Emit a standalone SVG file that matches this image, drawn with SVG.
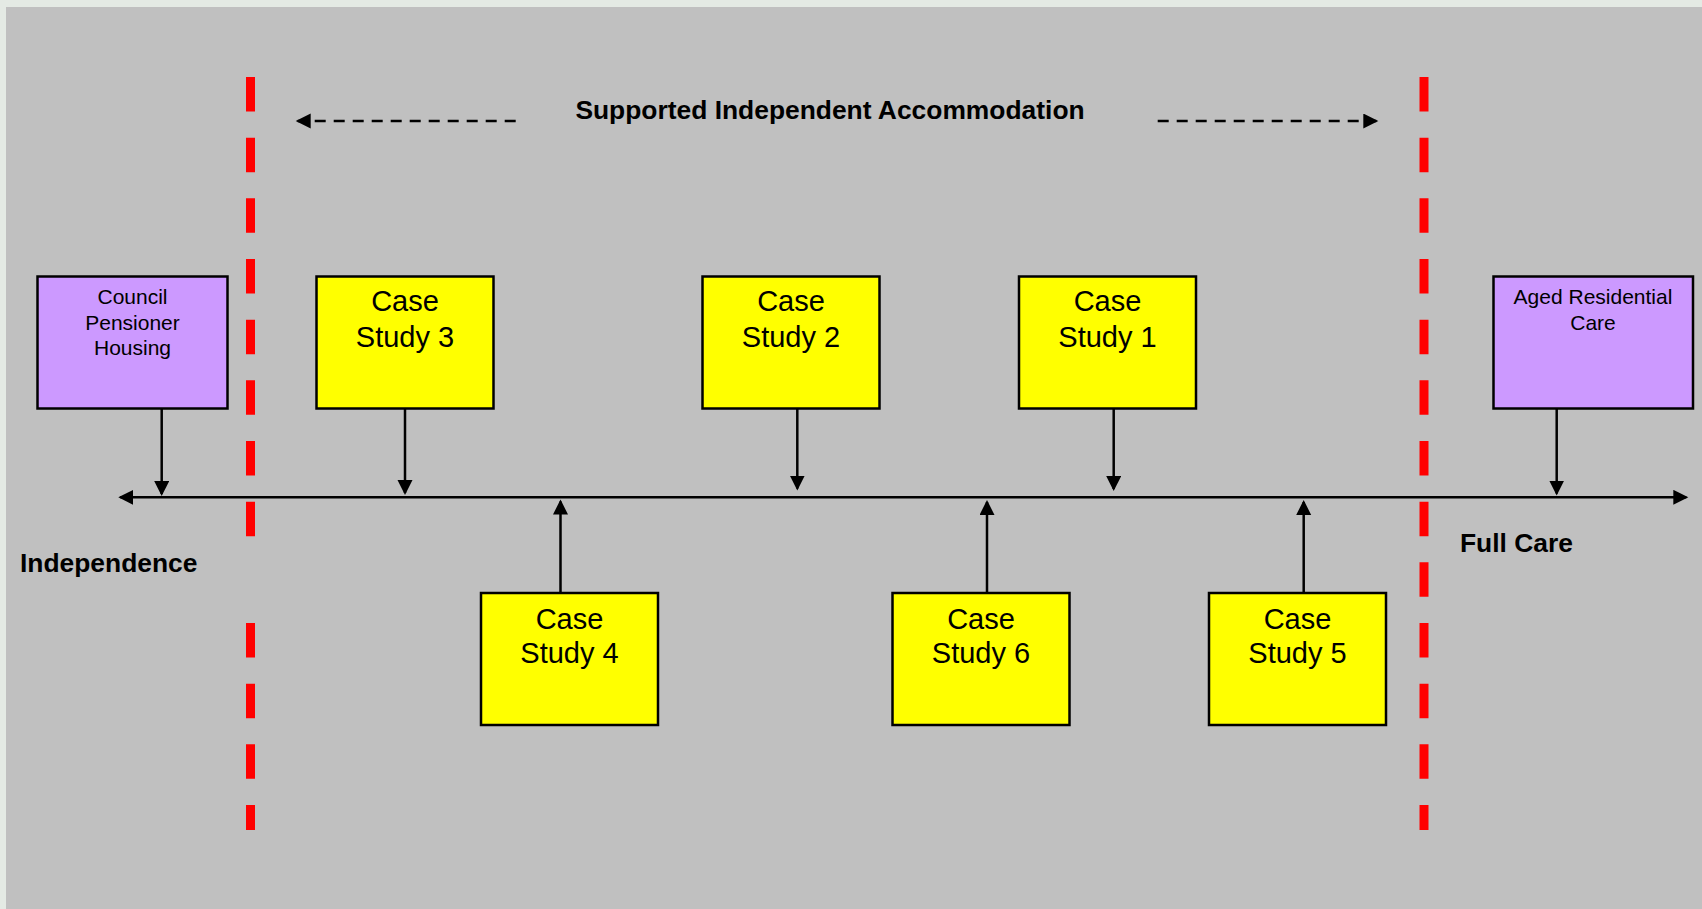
<svg xmlns="http://www.w3.org/2000/svg" width="1702" height="909" viewBox="0 0 1702 909">
<style>
.box{stroke:#000;stroke-width:2.5}
.purple{fill:#cc99ff}
.yellow{fill:#ffff00}
.small{font-family:"Liberation Sans",Arial,sans-serif;font-size:21px;fill:#000;text-anchor:middle}
.case{font-family:"Liberation Sans",Arial,sans-serif;font-size:29px;fill:#000;text-anchor:middle}
.bold{font-family:"Liberation Sans",Arial,sans-serif;font-size:26.4px;font-weight:bold;fill:#000}
.conn{stroke:#000;stroke-width:2.5;fill:none}
.dash{stroke:#000;stroke-width:2.5;fill:none;stroke-dasharray:11 8}
.red{stroke:#ff0000;stroke-width:9;fill:none;stroke-dasharray:34.5 26.17}
</style>
<defs>
<marker id="ah" markerUnits="userSpaceOnUse" markerWidth="16" markerHeight="16" refX="13" refY="7.5" orient="auto">
<path d="M0,0 L15,7.5 L0,15 z" fill="#000"/>
</marker>
<marker id="ahs" markerUnits="userSpaceOnUse" markerWidth="16" markerHeight="16" refX="13" refY="7.5" orient="auto-start-reverse">
<path d="M0,0 L15,7.5 L0,15 z" fill="#000"/>
</marker>
</defs>
<rect x="0" y="0" width="1702" height="909" fill="#e4eae4"/>
<rect x="6" y="7" width="1696" height="902" fill="#c0c0c0"/>

<g id="dividers">
<line class="red" x1="250.5" y1="77" x2="250.5" y2="537"/>
<line class="red" x1="250.5" y1="623" x2="250.5" y2="830"/>
<line class="red" x1="1424" y1="77" x2="1424" y2="830"/>
</g>

<g id="title">
<text class="bold" x="830" y="119" text-anchor="middle">Supported Independent Accommodation</text>
</g>
<g id="independence"><text class="bold" x="20" y="571.7">Independence</text></g>
<g id="fullcare"><text class="bold" x="1460" y="551.7">Full Care</text></g>

<g id="connectors">
<line class="dash" x1="515.7" y1="121" x2="297.7" y2="121" marker-end="url(#ah)"/>
<line class="dash" x1="1157.7" y1="121" x2="1376.3" y2="121" marker-end="url(#ah)"/>
<line class="conn" x1="120.3" y1="497.3" x2="1686.3" y2="497.3" marker-start="url(#ahs)" marker-end="url(#ah)"/>
<line class="conn" x1="161.7" y1="409" x2="161.7" y2="494" marker-end="url(#ah)"/>
<line class="conn" x1="405" y1="409" x2="405" y2="493" marker-end="url(#ah)"/>
<line class="conn" x1="797.3" y1="409" x2="797.3" y2="488.5" marker-end="url(#ah)"/>
<line class="conn" x1="1113.7" y1="409" x2="1113.7" y2="489" marker-end="url(#ah)"/>
<line class="conn" x1="1556.7" y1="409" x2="1556.7" y2="493.5" marker-end="url(#ah)"/>
<line class="conn" x1="560.5" y1="592" x2="560.5" y2="501.5" marker-end="url(#ah)"/>
<line class="conn" x1="987" y1="592" x2="987" y2="502" marker-end="url(#ah)"/>
<line class="conn" x1="1303.7" y1="592" x2="1303.7" y2="502" marker-end="url(#ah)"/>
</g>

<g id="council">
<rect class="box purple" x="37.5" y="276.5" width="190" height="132"/>
<text class="small" x="132.5" y="304">Council</text>
<text class="small" x="132.5" y="329.5">Pensioner</text>
<text class="small" x="132.5" y="355">Housing</text>
</g>

<g id="aged">
<rect class="box purple" x="1493.5" y="276.5" width="199.5" height="132"/>
<text class="small" x="1593" y="304">Aged Residential</text>
<text class="small" x="1593" y="329.5">Care</text>
</g>

<g id="case3">
<rect class="box yellow" x="316.5" y="276.5" width="177" height="132"/>
<text class="case" x="405" y="311">Case</text>
<text class="case" x="405" y="347.3">Study 3</text>
</g>
<g id="case2">
<rect class="box yellow" x="702.5" y="276.5" width="177" height="132"/>
<text class="case" x="791" y="311">Case</text>
<text class="case" x="791" y="347.3">Study 2</text>
</g>
<g id="case1">
<rect class="box yellow" x="1019" y="276.5" width="177" height="132"/>
<text class="case" x="1107.5" y="311">Case</text>
<text class="case" x="1107.5" y="347.3">Study 1</text>
</g>
<g id="case4">
<rect class="box yellow" x="481" y="593" width="177" height="132"/>
<text class="case" x="569.5" y="628.5">Case</text>
<text class="case" x="569.5" y="663.3">Study 4</text>
</g>
<g id="case6">
<rect class="box yellow" x="892.5" y="593" width="177" height="132"/>
<text class="case" x="981" y="628.5">Case</text>
<text class="case" x="981" y="663.3">Study 6</text>
</g>
<g id="case5">
<rect class="box yellow" x="1209" y="593" width="177" height="132"/>
<text class="case" x="1297.5" y="628.5">Case</text>
<text class="case" x="1297.5" y="663.3">Study 5</text>
</g>
</svg>
